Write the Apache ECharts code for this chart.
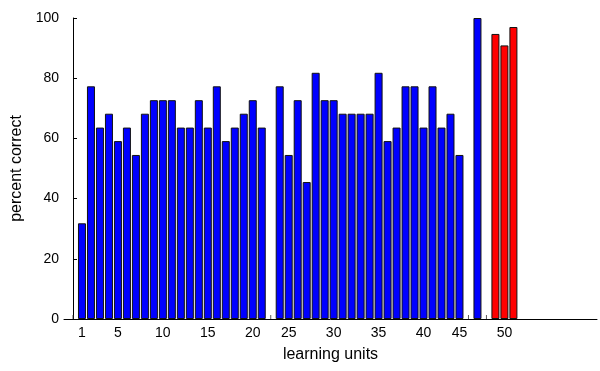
<!DOCTYPE html>
<html lang="en">
  <head>
    <meta charset="UTF-8" />
    <title>percent correct by learning unit</title>
    <script src="https://cdn.jsdelivr.net/npm/echarts@6/dist/echarts.min.js"></script>
  </head>
  <body style="margin: 0">
    <div id="main" style="width: 600px; height: 371px"></div>
    <script type="text/javascript">
      // x positions of the bars (slots 22, 44, 46 are left empty)
      const blueSlots = [
        1, 2, 3, 4, 5, 6, 7, 8, 9, 10, 11, 12, 13, 14, 15, 16, 17, 18, 19, 20, 21,
        23, 24, 25, 26, 27, 28, 29, 30, 31, 32, 33, 34, 35, 36, 37, 38, 39, 40, 41, 42, 43,
        45
      ];
      const blueScores = [
        31.8, 77.3, 63.6, 68.2, 59.1, 63.6, 54.5, 68.2, 72.7, 72.7, 72.7, 63.6, 63.6, 72.7, 63.6, 77.3, 59.1, 63.6, 68.2, 72.7, 63.6,
        77.3, 54.5, 72.7, 45.5, 81.8, 72.7, 72.7, 68.2, 68.2, 68.2, 68.2, 81.8, 59.1, 63.6, 77.3, 77.3, 63.6, 77.3, 63.6, 68.2, 54.5,
        100
      ];
      const redSlots = [47, 48, 49];
      const redScores = [94.7, 90.9, 97.0];
      const emptySlots = [0, 22, 44, 46];

      const tickSlots = [1, 5, 10, 15, 20, 24, 29, 34, 39, 43, 48];
      const tickLabels = ["1", "5", "10", "15", "20", "25", "30", "35", "40", "45", "50"];

      const font = "'Liberation Sans', Arial, sans-serif";

      let myChart = echarts.init(document.getElementById("main"));

      let options = {
        animation: false,
        backgroundColor: "#fff",
        grid: { left: 64, right: 3, top: 18, bottom: 52 },
        xAxis: {
          type: "value",
          min: -1,
          max: 58.3,
          name: "learning units",
          nameLocation: "middle",
          nameGap: 28,
          nameTextStyle: { color: "#000", fontSize: 16, fontFamily: font },
          axisLine: { lineStyle: { color: "#000", width: 1 } },
          axisTick: { show: false },
          splitLine: { show: false },
          axisLabel: {
            customValues: tickSlots,
            formatter: (v) => tickLabels[tickSlots.indexOf(v)],
            color: "#000",
            fontSize: 14,
            fontFamily: font,
            margin: 7
          }
        },
        yAxis: {
          type: "value",
          min: 0,
          max: 100,
          interval: 20,
          name: "percent correct",
          nameLocation: "middle",
          nameGap: 39,
          nameTextStyle: { color: "#000", fontSize: 16, fontFamily: font },
          axisLine: { show: true, lineStyle: { color: "#000", width: 1 } },
          axisTick: { show: true, inside: true, length: 4, lineStyle: { color: "#000" } },
          splitLine: { show: false },
          axisLabel: { color: "#000", fontSize: 14, fontFamily: font, margin: 5 }
        },
        series: [
          {
            name: "units",
            type: "bar",
            data: blueSlots.map((s, i) => [s, blueScores[i]]),
            barWidth: 8,
            barGap: "-100%",
            itemStyle: { color: "#0000ff", borderColor: "#111", borderWidth: 1 }
          },
          {
            name: "final units",
            type: "bar",
            data: redSlots.map((s, i) => [s, redScores[i]]),
            barWidth: 8,
            barGap: "-100%",
            itemStyle: { color: "#ff0000", borderColor: "#111", borderWidth: 1 }
          },
          {
            name: "empty",
            type: "scatter",
            data: emptySlots.map((s) => [s, 0]),
            symbol: "rect",
            symbolSize: [1, 4],
            symbolOffset: [0, -2],
            itemStyle: { color: "#333" },
            silent: true
          }
        ]
      };

      myChart.setOption(options);
    </script>
  </body>
</html>
